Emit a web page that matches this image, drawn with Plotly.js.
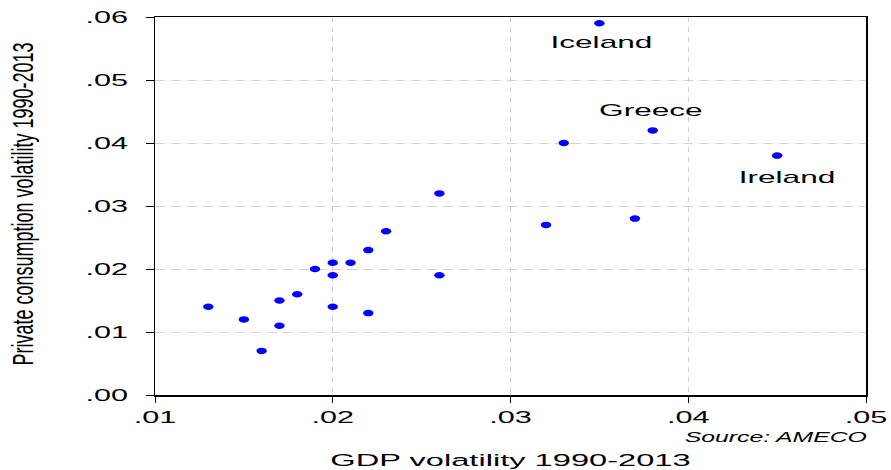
<!DOCTYPE html>
<html>
<head>
<meta charset="utf-8">
<script src="https://cdn.plot.ly/plotly-3.0.1.min.js"></script>
<style>html,body{margin:0;padding:0;background:#fff;}#chart{width:891px;height:470px;}</style>
</head>
<body>
<div id="chart"></div>
<script>
const gdpVol = [0.013,0.015,0.016,0.017,0.017,0.018,0.019,0.020,0.020,0.020,0.021,0.022,0.022,0.023,0.026,0.026,0.032,0.033,0.035,0.037,0.038,0.045];
const consVol = [0.014,0.012,0.007,0.015,0.011,0.016,0.020,0.021,0.019,0.014,0.021,0.023,0.013,0.026,0.032,0.019,0.027,0.040,0.059,0.028,0.042,0.038];
const labelNames = ["Iceland","Greece","Ireland"];
const labelX = [0.035,0.038,0.045];
const labelY = [0.059,0.042,0.038];
const labelDX = [2,-2,10];
const labelDY = [-19,20,-22];
const xTickVals = [0.01,0.02,0.03,0.04,0.05];
const xTickText = [".01",".02",".03",".04",".05"];
const yTickVals = [0,0.01,0.02,0.03,0.04,0.05,0.06];
const yTickText = [".00",".01",".02",".03",".04",".05",".06"];
const xTitle = "GDP volatility 1990-2013";
const yTitle = "Private consumption volatility 1990-2013";
const sourceText = "<i>Source: AMECO</i>";

const fontMain = "Liberation Sans, Arial, sans-serif";

const trace = {
  x: gdpVol, y: consVol, type: "scatter", mode: "markers",
  marker: {color: "#0000ff", size: 6.5, line: {width: 0}},
  hoverinfo: "skip"
};

const annotations = labelNames.map((t,i)=>({
  x: labelX[i], y: labelY[i], xref: "x", yref: "y", text: t, showarrow: false,
  xshift: labelDX[i], yshift: labelDY[i],
  font: {family: fontMain, size: 17, color: "#000"}
}));
annotations.push({
  xref: "paper", yref: "paper", x: 1, y: -0.11, xanchor: "right", yanchor: "middle",
  xshift: 3,
  text: sourceText, showarrow: false,
  font: {family: fontMain, size: 15.5, color: "#000"}
});

const layout = {
  width: 891, height: 470,
  margin: {l: 155, r: 25, t: 17, b: 75},
  paper_bgcolor: "#fff", plot_bgcolor: "#fff",
  showlegend: false,
  xaxis: {
    range: [0.01, 0.05], tickvals: xTickVals, ticktext: xTickText,
    showgrid: true, gridcolor: "#d2d2d2", griddash: "5px,5px", gridwidth: 1,
    zeroline: false, showline: true, linecolor: "#000", linewidth: 1.5, mirror: true,
    ticks: "outside", ticklen: 6, tickcolor: "#000", tickwidth: 1,
    tickfont: {family: fontMain, size: 17, color: "#000"},
    title: {text: xTitle, font: {family: fontMain, size: 17, color: "#000"}, standoff: 30}
  },
  yaxis: {
    range: [0, 0.06], tickvals: yTickVals, ticktext: yTickText,
    showgrid: true, gridcolor: "#d2d2d2", griddash: "10px,6px", gridwidth: 1,
    zeroline: false, showline: true, linecolor: "#000", linewidth: 1.5, mirror: true,
    ticks: "outside", ticklen: 8, tickcolor: "#000", tickwidth: 1,
    ticklabelstandoff: 14,
    tickfont: {family: fontMain, size: 17, color: "#000"},
    title: {text: yTitle, font: {family: fontMain, size: 18, color: "#000"}, standoff: 22}
  },
  annotations: annotations
};

function stretchX(el, s, mode) {
  const b = el.getBBox();
  let cx = b.x + b.width / 2;
  if (mode === "right") cx = b.x + b.width;
  const prev = el.getAttribute("transform") || "";
  el.setAttribute("transform", prev + ` translate(${cx},0) scale(${s},1) translate(${-cx},0)`);
}

Plotly.newPlot("chart", [trace], layout, {displayModeBar: false, staticPlot: true}).then(gd => {
  gd.querySelectorAll("g.xtick text").forEach(t => stretchX(t, 1.8, "center"));
  gd.querySelectorAll("g.ytick text").forEach(t => stretchX(t, 1.8, "right"));
  gd.querySelectorAll("text.xtitle").forEach(t => stretchX(t, 1.92, "center"));
  const ann = gd.querySelectorAll("g.annotation text");
  ann.forEach((t, i) => {
    if (i < labelNames.length) stretchX(t, 1.86, "center");
    else stretchX(t, 1.6, "right");
  });
  gd.querySelectorAll("text.ytitle").forEach(t => {
    const b = t.getBBox();
    const cy = b.y + b.height / 2;
    const prev = t.getAttribute("transform") || "";
    t.setAttribute("transform", prev + ` translate(2,-48) translate(0,${cy}) scale(1,1.65) translate(0,${-cy})`);
  });
  gd.querySelectorAll("path.point").forEach(p => {
    const prev = p.getAttribute("transform") || "";
    p.setAttribute("transform", prev + " scale(1.6,1)");
  });
});
</script>
</body>
</html>
